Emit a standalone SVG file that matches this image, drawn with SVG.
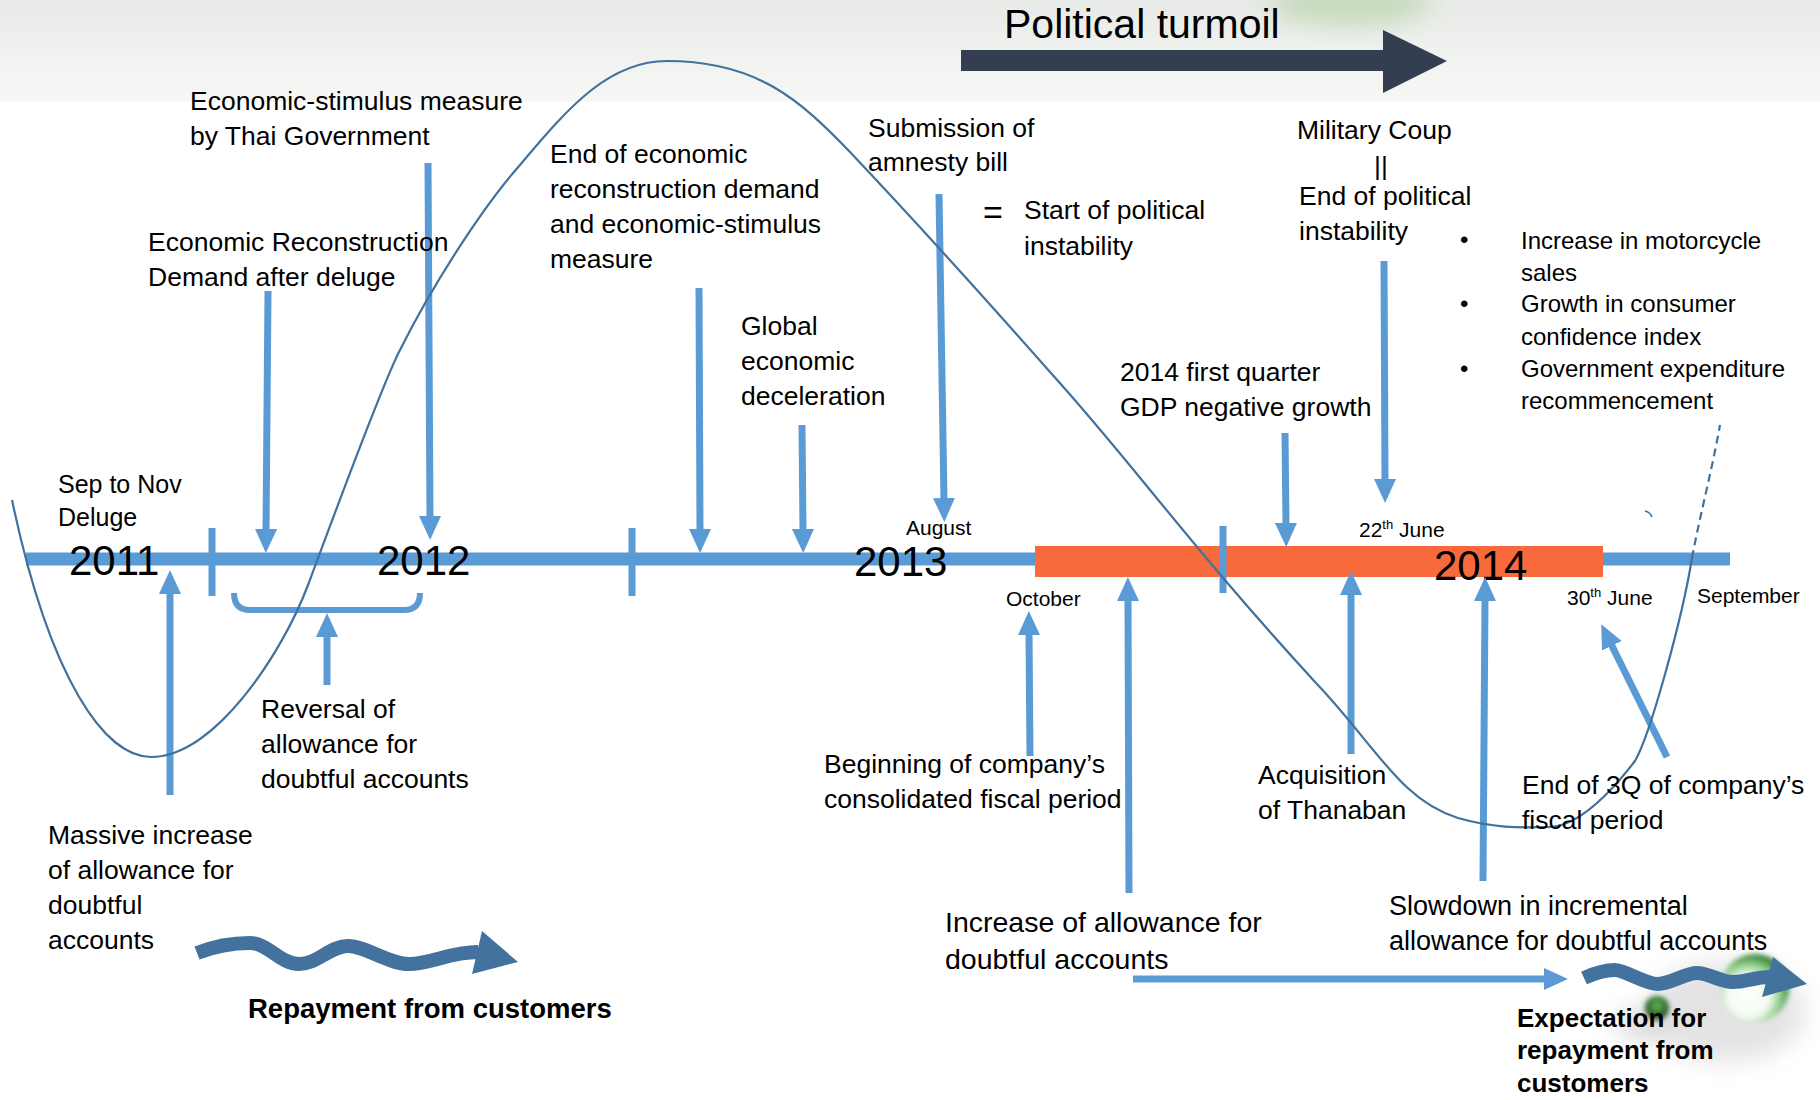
<svg xmlns="http://www.w3.org/2000/svg" width="1820" height="1100" viewBox="0 0 1820 1100">
  <style>
    text { font-family: 'Liberation Sans', Arial, sans-serif; fill: #000; }
    .t { font-size: 26.5px; }
    .s { font-size: 24px; }
    .m { font-size: 21px; }
    .yr { font-size: 42px; }
    .bd { font-weight: bold; }
    .arr { stroke: #5B9BD5; stroke-width: 7; fill: none; marker-end: url(#head); }
    .tick { stroke: #5B9BD5; stroke-width: 7; }
    .wave { stroke: #44729E; stroke-width: 14; fill: none; }
    .curve { stroke: #41719C; stroke-width: 2.2; fill: none; }
  </style>
  <defs>
    <marker id="head" markerUnits="userSpaceOnUse" viewBox="0 0 24 22" markerWidth="24" markerHeight="22" refX="2" refY="11" orient="auto">
      <path d="M0,0 L24,11 L0,22 z" fill="#5B9BD5"/>
    </marker>
    <linearGradient id="band" x1="0" y1="0" x2="0" y2="1">
      <stop offset="0" stop-color="#E7EAE6"/>
      <stop offset="0.6" stop-color="#F1F3F0"/>
      <stop offset="1" stop-color="#F7F8F6"/>
    </linearGradient>
    <radialGradient id="glass" cx="0.4" cy="0.62" r="0.62">
      <stop offset="0" stop-color="#FFFFFF"/>
      <stop offset="0.5" stop-color="#F4FBF2"/>
      <stop offset="0.78" stop-color="#86C97F"/>
      <stop offset="1" stop-color="#2E7A2E"/>
    </radialGradient>
    <radialGradient id="bead" cx="0.5" cy="0.4" r="0.6">
      <stop offset="0" stop-color="#6FBF5F"/>
      <stop offset="0.6" stop-color="#2D6B2D"/>
      <stop offset="1" stop-color="#1F3F1F"/>
    </radialGradient>
    <filter id="soft" x="-50%" y="-50%" width="200%" height="200%"><feGaussianBlur stdDeviation="2.5"/></filter>
    <filter id="haze" x="-50%" y="-50%" width="200%" height="200%"><feGaussianBlur stdDeviation="12"/></filter>
  </defs>

  <!-- page background and top banner -->
  <rect x="0" y="0" width="1820" height="1100" fill="#FFFFFF"/>
  <rect x="0" y="0" width="1820" height="102" fill="url(#band)"/>
  <ellipse cx="1350" cy="4" rx="80" ry="22" fill="#A9CC98" opacity="0.55" filter="url(#haze)"/>

  <!-- political turmoil banner arrow -->
  <g id="turmoil">
    <path d="M961,50 L1383,50 L1383,30 L1447,61 L1383,93 L1383,71 L961,71 z" fill="#333F50"/>
    <text x="1004" y="38" font-size="41">Political turmoil</text>
  </g>

  <!-- timeline axis -->
  <g id="timeline">
    <line x1="26" y1="559" x2="1730" y2="559" stroke="#5B9BD5" stroke-width="13"/>
    <rect x="1035" y="546" width="568" height="31" fill="#F8693C"/>
    <line class="tick" x1="212" y1="528" x2="212" y2="596"/>
    <line class="tick" x1="632" y1="528" x2="632" y2="596"/>
    <line class="tick" x1="1223" y1="526" x2="1223" y2="593"/>
    <path d="M234,593 Q234,610 250,610 L404,610 Q420,610 420,593" stroke="#5B9BD5" stroke-width="6" fill="none"/>
    <text class="yr" x="69" y="575">2011</text>
    <text class="yr" x="377" y="575">2012</text>
    <text class="yr" x="854" y="576">2013</text>
    <text class="yr" x="1434" y="580">2014</text>
    <text class="m" x="906" y="535">August</text>
    <text class="m" x="1006" y="606" font-size="22">October</text>
    <text class="m" x="1359" y="537">22<tspan dy="-8" font-size="13">th</tspan><tspan dy="8"> June</tspan></text>
    <text class="m" x="1567" y="605">30<tspan dy="-8" font-size="13">th</tspan><tspan dy="8"> June</tspan></text>
    <text class="m" x="1697" y="603" font-size="21.5">September</text>
  </g>

  <!-- event pointers -->
  <g id="connectors">
    <line class="arr" x1="268" y1="291" x2="266" y2="531"/>
    <line class="arr" x1="428" y1="163" x2="430" y2="518"/>
    <line class="arr" x1="699" y1="288" x2="700" y2="531"/>
    <line class="arr" x1="802" y1="425" x2="803" y2="531"/>
    <line class="arr" x1="939" y1="194" x2="944" y2="500"/>
    <line class="arr" x1="1285" y1="433" x2="1286" y2="525"/>
    <line class="arr" x1="1384" y1="261" x2="1385" y2="481"/>
    <line class="arr" x1="170" y1="795" x2="170" y2="592"/>
    <line class="arr" x1="327" y1="685" x2="327" y2="635"/>
    <line class="arr" x1="1030" y1="756" x2="1029" y2="633"/>
    <line class="arr" x1="1129" y1="893" x2="1128" y2="599"/>
    <line class="arr" x1="1351" y1="754" x2="1351" y2="593"/>
    <line class="arr" x1="1483" y1="881" x2="1485" y2="599"/>
    <line class="arr" x1="1667" y1="757" x2="1611" y2="644"/>
    <line class="arr" x1="1133" y1="979" x2="1546" y2="979"/>
  </g>

  <!-- business cycle curve -->
  <g id="cycle">
    <path class="curve" d="M12,500 C50,680 105,757 151,757 C215,757 283,652 308,585 C336,510 383,382 400,350 C430,290 480,210 520,165 C570,105 610,61 667,61 C757,61 800,100 850,152 C900,205 960,270 1050,372 C1130,460 1190,546 1316,683 C1376,746 1400,800 1458,818 C1500,830 1530,827 1548,827 C1575,827 1605,800 1635,761 C1650,735 1682,620 1692,558"/>
    <path class="curve" d="M1692,558 C1700,515 1712,470 1720,425" stroke-dasharray="8 5"/>
    <path d="M1645,511 Q1650,512 1652,517" stroke="#41719C" stroke-width="1.5" fill="none"/>
  </g>

  <!-- repayment flows -->
  <g id="repayment">
    <path class="wave" d="M197,953 C215,946 232,943 250,943 S280,964 299,964 S330,946 348,946 S388,964 409,964 S450,952 478,952"/>
    <polygon points="482,931 518,962 472,974" fill="#44729E"/>
    <text class="bd" x="248" y="1018" font-size="27.5">Repayment from customers</text>
  </g>

  <g id="expectation">
    <ellipse cx="1725" cy="1012" rx="80" ry="50" fill="#777" opacity="0.2" filter="url(#haze)"/>
    <ellipse cx="1640" cy="1025" rx="25" ry="15" fill="#777" opacity="0.25" filter="url(#haze)"/>
    <circle cx="1755" cy="988" r="34" fill="url(#glass)" filter="url(#soft)"/>
    <circle cx="1657" cy="1008" r="12" fill="url(#bead)" filter="url(#soft)"/>
    <path class="wave" d="M1584,978 C1595,973 1605,970 1615,970 S1645,984 1658,984 S1685,973 1697,973 S1720,982 1733,982 S1755,977 1770,977"/>
    <polygon points="1773,957 1807,984 1762,997" fill="#44729E"/>
    <text class="bd" x="1517" y="1027" font-size="26">Expectation for</text>
    <text class="bd" x="1517" y="1059" font-size="26">repayment from</text>
    <text class="bd" x="1517" y="1092" font-size="26">customers</text>
  </g>

  <!-- event labels above the axis -->
  <g id="stimulus">
    <text class="t" x="190" y="110">Economic-stimulus measure</text>
    <text class="t" x="190" y="145">by Thai Government</text>
  </g>
  <g id="reconstruction">
    <text class="t" x="148" y="251">Economic Reconstruction</text>
    <text class="t" x="148" y="286">Demand after deluge</text>
  </g>
  <g id="end-reconstruction">
    <text class="t" x="550" y="163">End of economic</text>
    <text class="t" x="550" y="198">reconstruction demand</text>
    <text class="t" x="550" y="233">and economic-stimulus</text>
    <text class="t" x="550" y="268">measure</text>
  </g>
  <g id="global">
    <text class="t" x="741" y="335">Global</text>
    <text class="t" x="741" y="370">economic</text>
    <text class="t" x="741" y="405">deceleration</text>
  </g>
  <g id="amnesty">
    <text class="t" x="868" y="137">Submission of</text>
    <text class="t" x="868" y="171">amnesty bill</text>
    <text x="983" y="224" font-size="34">=</text>
    <text class="t" x="1024" y="219">Start of political</text>
    <text class="t" x="1024" y="255">instability</text>
  </g>
  <g id="coup">
    <text class="t" x="1297" y="139">Military Coup</text>
    <text class="t" x="1381" y="175" text-anchor="middle">||</text>
    <text class="t" x="1299" y="205">End of political</text>
    <text class="t" x="1299" y="240">instability</text>
  </g>
  <g id="gdp">
    <text class="t" x="1120" y="381">2014 first quarter</text>
    <text class="t" x="1120" y="416">GDP negative growth</text>
  </g>
  <g id="recovery">
    <text class="s" x="1460" y="248">•</text>
    <text class="s" x="1521" y="249">Increase in motorcycle</text>
    <text class="s" x="1521" y="281">sales</text>
    <text class="s" x="1460" y="312">•</text>
    <text class="s" x="1521" y="312">Growth in consumer</text>
    <text class="s" x="1521" y="345">confidence index</text>
    <text class="s" x="1460" y="377">•</text>
    <text class="s" x="1521" y="377">Government expenditure</text>
    <text class="s" x="1521" y="409">recommencement</text>
  </g>
  <g id="deluge">
    <text x="58" y="493" font-size="25">Sep to Nov</text>
    <text x="58" y="526" font-size="25">Deluge</text>
  </g>

  <!-- event labels below the axis -->
  <g id="reversal">
    <text class="t" x="261" y="718">Reversal of</text>
    <text class="t" x="261" y="753">allowance for</text>
    <text class="t" x="261" y="788">doubtful accounts</text>
  </g>
  <g id="massive">
    <text class="t" x="48" y="844">Massive increase</text>
    <text class="t" x="48" y="879">of allowance for</text>
    <text class="t" x="48" y="914">doubtful</text>
    <text class="t" x="48" y="949">accounts</text>
  </g>
  <g id="fiscal-start">
    <text class="t" x="824" y="773">Beginning of company’s</text>
    <text class="t" x="824" y="808">consolidated fiscal period</text>
  </g>
  <g id="acquisition">
    <text class="t" x="1258" y="784">Acquisition</text>
    <text class="t" x="1258" y="819">of Thanaban</text>
  </g>
  <g id="third-quarter">
    <text class="t" x="1522" y="794">End of 3Q of company’s</text>
    <text class="t" x="1522" y="829">fiscal period</text>
  </g>
  <g id="increase">
    <text x="945" y="932" font-size="28.5">Increase of allowance for</text>
    <text x="945" y="969" font-size="28.5">doubtful accounts</text>
  </g>
  <g id="slowdown">
    <text x="1389" y="915" font-size="27">Slowdown in incremental</text>
    <text x="1389" y="950" font-size="27">allowance for doubtful accounts</text>
  </g>
</svg>
